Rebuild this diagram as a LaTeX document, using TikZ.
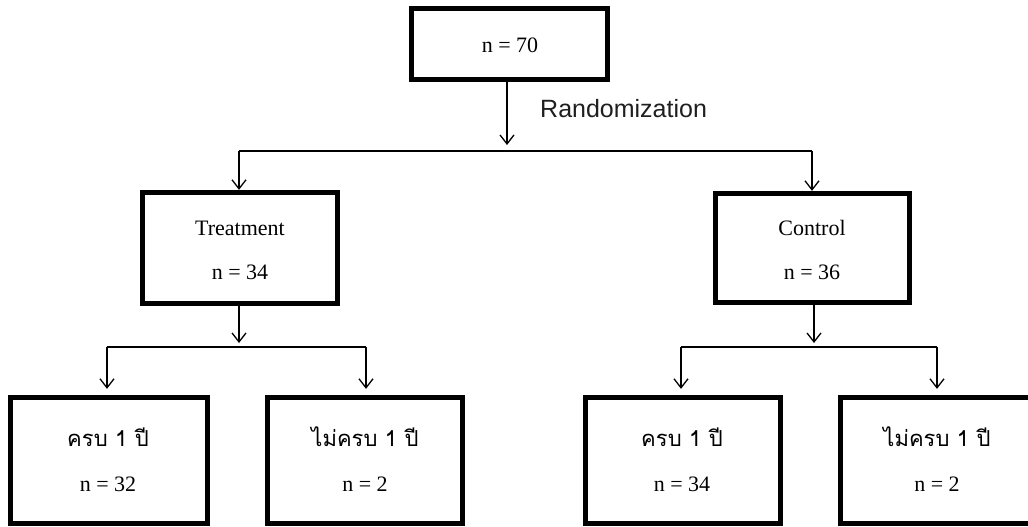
\documentclass[tikz,border=0pt]{standalone}
\usepackage{fontspec}
\setmainfont{Liberation Serif}
\newfontfamily\thaifont[Script=Thai]{Loma}
\newfontfamily\labelsans{Liberation Sans}
\usetikzlibrary{arrows.meta}

\tikzset{
  box/.style={draw=black, line width=4.8pt, fill=white, inner sep=0pt},
  conn/.style={draw=black, line width=1.3pt},
  arr/.style={conn, -{Straight Barb[length=9pt, width=14pt, line width=1.3pt]}},
  txt/.style={anchor=base, inner sep=0pt, font=\fontsize{22}{24}\selectfont},
  thai/.style={anchor=base, inner sep=0pt, font=\thaifont\fontsize{22}{26}\selectfont},
}

\begin{document}
\begin{tikzpicture}[x=1pt, y=-1pt]
  \clip (0,0) rectangle (1028,527);
  \fill[white] (0,0) rectangle (1028,527);

  % boxes
  \node[box, minimum width=196.5pt, minimum height=71.5pt] (top) at (509.5,44) {};
  \node[box, minimum width=195.5pt, minimum height=111.5pt] (trt) at (240,248) {};
  \node[box, minimum width=194.5pt, minimum height=109.5pt] (ctl) at (812.5,248) {};
  \node[box, minimum width=197.5pt, minimum height=126.5pt] (b1) at (109,460.5) {};
  \node[box, minimum width=195.5pt, minimum height=126.5pt] (b2) at (365,460.5) {};
  \node[box, minimum width=195.5pt, minimum height=126.5pt] (b3) at (683,460.5) {};
  \node[box, minimum width=193.5pt, minimum height=126.5pt] (b4) at (937,460.5) {};

  % box texts
  \node[txt] (topn) at (510,53) {n = 70};
  \node[txt] (trtname) at (240,235) {Treatment};
  \node[txt] (trtn) at (240,279) {n = 34};
  \node[txt] (ctlname) at (812,235) {Control};
  \node[txt] (ctln) at (812,279) {n = 36};
  \node[thai] (b1t) at (108,446) {ครบ 1 ปี};
  \node[txt]  (b1n) at (108,491) {n = 32};
  \node[thai] (b2t) at (365,446) {ไม่ครบ 1 ปี};
  \node[txt]  (b2n) at (365,491) {n = 2};
  \node[thai] (b3t) at (682,446) {ครบ 1 ปี};
  \node[txt]  (b3n) at (682,491) {n = 34};
  \node[thai] (b4t) at (937,446) {ไม่ครบ 1 ปี};
  \node[txt]  (b4n) at (937,491) {n = 2};

  \node[anchor=base west, inner sep=0pt, text=black!88,
        font=\labelsans\fontsize{25}{28}\selectfont] (rand) at (540,117) {Randomization};

  % branch points
  \coordinate (r0) at (507,145);
  \coordinate (barL) at (239,151);
  \coordinate (barR) at (812,151);
  \coordinate (t0) at (239,343);
  \coordinate (tL) at (107,347);
  \coordinate (tR) at (366,347);
  \coordinate (c0) at (814,343);
  \coordinate (cL) at (681,347);
  \coordinate (cR) at (937,347);

  % randomization split
  \draw[arr] (r0 |- top.south) -- (r0);
  \draw[conn] (barL) -- (barR);
  \draw[arr] (barL) -- (barL |- trt.north);
  \draw[arr] (barR) -- (barR |- ctl.north);

  % treatment split
  \draw[arr] (t0 |- trt.south) -- (t0);
  \draw[conn] (tL) -- (tR);
  \draw[arr] (tL) -- ([yshift=6pt]tL |- b1.north);
  \draw[arr] (tR) -- ([yshift=6pt]tR |- b2.north);

  % control split
  \draw[arr] (c0 |- ctl.south) -- (c0);
  \draw[conn] (cL) -- (cR);
  \draw[arr] (cL) -- ([yshift=6pt]cL |- b3.north);
  \draw[arr] (cR) -- ([yshift=6pt]cR |- b4.north);
\end{tikzpicture}
\end{document}
